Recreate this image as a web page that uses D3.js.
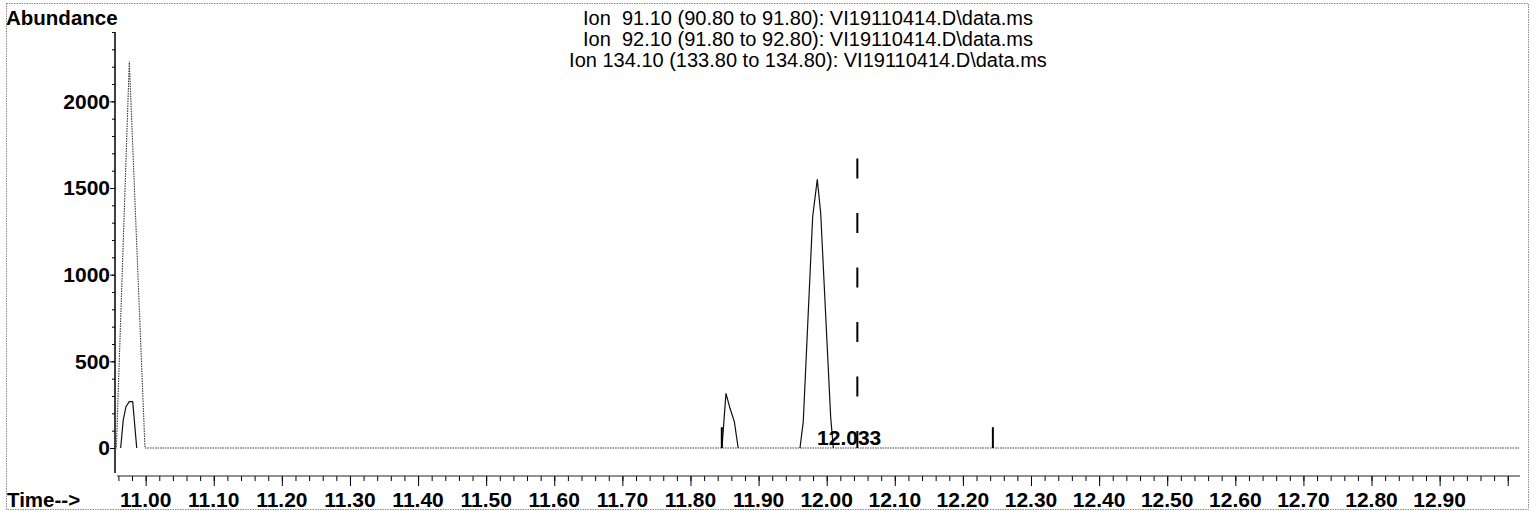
<!DOCTYPE html>
<html>
<head>
<meta charset="utf-8">
<script src="https://cdn.jsdelivr.net/npm/d3@7/dist/d3.min.js"></script>
<style>
  html, body { margin: 0; padding: 0; background: #fff; }
  svg { display: block; }
  text { font-family: "Liberation Sans", Arial, Helvetica, sans-serif; fill: #000; }
</style>
</head>
<body>
<svg id="chart" width="1537" height="513"></svg>
<script>
// Extracted ion traces (retention time in minutes, abundance in counts)
const titleLines = [
  "Ion  91.10 (90.80 to 91.80): VI19110414.D\\data.ms",
  "Ion  92.10 (91.80 to 92.80): VI19110414.D\\data.ms",
  "Ion 134.10 (133.80 to 134.80): VI19110414.D\\data.ms"
];

// Ion 91: dotted trace across the whole window
const ion91Time  = [10.955, 10.957, 10.976, 10.999, 13.018];
const ion91Abund = [0, 0, 2230, 0, 0];

// Ion 92: small peak at the start of the window
const ion92Time  = [10.9633, 10.9671, 10.9711, 10.9760, 10.9810, 10.9869];
const ion92Abund = [0, 161, 238, 267, 267, 0];

// Ion 134: two peaks
const ion134aTime  = [11.8462, 11.8521, 11.8580, 11.8644, 11.8700];
const ion134aAbund = [0, 315, 229, 152, 0];
const ion134bTime  = [11.9608, 11.9656, 11.9794, 11.9862, 11.9912, 12.0058, 12.0097];
const ion134bAbund = [0, 152, 1334, 1550, 1354, 181, 0];

// Integration markers and expected retention time line
const markerTimes = [11.846, 12.244];
const markerTop = 120;
const expectedRtTime = 12.045;
const expectedRtTop = 1670;
const peakLabelTime = 12.033;
const peakLabelText = "12.033";

// Axis ticks
const yMajorTicks = [0, 500, 1000, 1500, 2000];
const yMinorTicks = d3.range(0, 2401, 100);
const xMajorTicks = [11.0, 11.1, 11.2, 11.3, 11.4, 11.5, 11.6, 11.7, 11.8, 11.9,
                     12.0, 12.1, 12.2, 12.3, 12.4, 12.5, 12.6, 12.7, 12.8, 12.9, 13.0];
const xLabelTicks = xMajorTicks.slice(0, 20);
const xMinorTicks = d3.range(0, 103).map(i => +(10.96 + i * 0.02).toFixed(2)).filter(t => t <= 13.01);

const svg = d3.select("#chart");

const x = d3.scaleLinear().domain([10.955, 13.018]).range([115, 1520]);
const y = d3.scaleLinear().domain([0, 2400]).range([448, 32]);
const yBottom = 473;
const xAxisY = 476;

// outer frame
svg.append("rect")
  .attr("x", 6.5).attr("y", 3.5).attr("width", 1522).attr("height", 506)
  .attr("fill", "none").attr("stroke", "#8a8a8a").attr("stroke-width", 1)
  .attr("stroke-dasharray", "1.5,1");

// title
svg.append("g").selectAll("text").data(titleLines).join("text")
  .attr("x", 808).attr("y", (d, i) => 25 + i * 21)
  .attr("text-anchor", "middle")
  .attr("font-size", 20)
  .style("white-space", "pre")
  .attr("xml:space", "preserve")
  .text(d => d);

svg.append("text").attr("x", 6).attr("y", 25)
  .attr("font-size", 20.5).attr("font-weight", "bold").text("Abundance");

svg.append("text").attr("x", 7).attr("y", 507)
  .attr("font-size", 20.5).attr("font-weight", "bold").text("Time-->");

// y axis
const yAxisG = svg.append("g").attr("transform", "translate(115,0)");
yAxisG.call(d3.axisLeft(y).tickValues(yMinorTicks).tickSize(3).tickFormat(""));
const yMajorG = svg.append("g").attr("transform", "translate(115,0)");
yMajorG.call(d3.axisLeft(y).tickValues(yMajorTicks).tickSize(5).tickPadding(0).tickFormat(d3.format("d")));
svg.selectAll(".domain").remove();
yMajorG.selectAll("text").attr("font-size", 21).attr("font-weight", "bold")
  .attr("font-family", "'Liberation Sans', Arial, sans-serif").attr("fill", "#000");
svg.append("line").attr("x1", 115).attr("x2", 115).attr("y1", y(2400)).attr("y2", yBottom)
  .attr("stroke", "#000").attr("stroke-width", 1.5);

// x axis
const xMinorG = svg.append("g").attr("transform", `translate(0,${xAxisY})`);
xMinorG.call(d3.axisBottom(x).tickValues(xMinorTicks).tickSize(5).tickFormat(""));
const xMajorG = svg.append("g").attr("transform", `translate(0,${xAxisY})`);
xMajorG.call(d3.axisBottom(x).tickValues(xMajorTicks).tickSize(10).tickFormat(""));
svg.selectAll(".domain").remove();
svg.append("line").attr("x1", 117).attr("x2", 1520).attr("y1", xAxisY).attr("y2", xAxisY)
  .attr("stroke", "#222").attr("stroke-width", 1);
svg.append("g").selectAll("text").data(xLabelTicks).join("text")
  .attr("x", d => x(d)).attr("y", 507)
  .attr("text-anchor", "middle")
  .attr("font-size", 21).attr("font-weight", "bold")
  .text(d => d3.format(".2f")(d));

const line = d3.line().x(d => x(d[0])).y(d => y(d[1]));
const zip = (t, v) => t.map((ti, i) => [ti, v[i]]);

// ion 91 (dotted)
svg.append("path").datum(zip(ion91Time, ion91Abund))
  .attr("d", line).attr("fill", "none")
  .attr("stroke", "#3a3a3a").attr("stroke-width", 1.1)
  .attr("stroke-dasharray", "1.5,1");

// ion 92 (solid)
svg.append("path").datum(zip(ion92Time, ion92Abund))
  .attr("d", line).attr("fill", "none")
  .attr("stroke", "#111").attr("stroke-width", 1.2);

// ion 134 (solid)
[zip(ion134aTime, ion134aAbund), zip(ion134bTime, ion134bAbund)].forEach(seg => {
  svg.append("path").datum(seg)
    .attr("d", line).attr("fill", "none")
    .attr("stroke", "#111").attr("stroke-width", 1.2);
});

// integration markers
svg.append("g").selectAll("line").data(markerTimes).join("line")
  .attr("x1", d => x(d)).attr("x2", d => x(d))
  .attr("y1", y(0)).attr("y2", y(markerTop))
  .attr("stroke", "#000").attr("stroke-width", 2);

// expected retention time line (dashed)
svg.append("line")
  .attr("x1", x(expectedRtTime)).attr("x2", x(expectedRtTime))
  .attr("y1", y(expectedRtTop)).attr("y2", y(0))
  .attr("stroke", "#000").attr("stroke-width", 2)
  .attr("stroke-dasharray", "20,34.5");

// peak retention time label
svg.append("text")
  .attr("x", x(peakLabelTime)).attr("y", y(0) - 3)
  .attr("text-anchor", "middle")
  .attr("font-size", 21).attr("font-weight", "bold")
  .text(peakLabelText);
</script>
</body>
</html>
